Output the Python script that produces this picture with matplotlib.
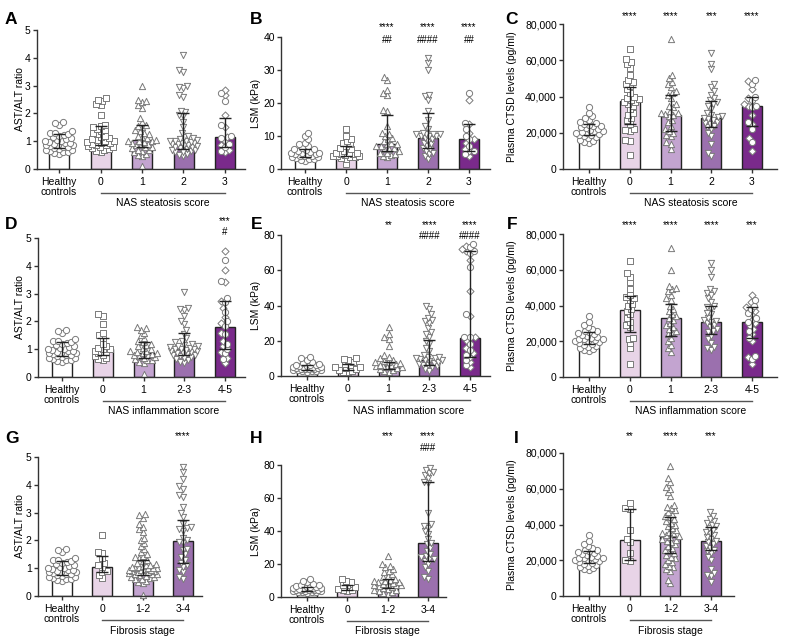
import numpy as np
import matplotlib
matplotlib.use("Agg")
import matplotlib.pyplot as plt
from matplotlib.transforms import blended_transform_factory
from matplotlib.ticker import FuncFormatter

plt.rcParams['font.family'] = ['Liberation Sans', 'DejaVu Sans']

# ---------------- categories ----------------
cat_steatosis = ["Healthy\ncontrols", "0", "1", "2", "3"]
cat_inflam = ["Healthy\ncontrols", "0", "1", "2-3", "4-5"]
cat_fibrosis = ["Healthy\ncontrols", "0", "1-2", "3-4"]

# ---------------- healthy controls (shared) ----------------
healthy_astalt = [0.55, 0.58, 0.6, 0.62, 0.65, 0.68, 0.7, 0.72, 0.75, 0.78, 0.8, 0.82, 0.85, 0.85,
                  0.88, 0.9, 0.92, 0.95, 0.98, 1.0, 1.02, 1.05, 1.08, 1.1, 1.15, 1.2, 1.22, 1.25,
                  1.28, 1.3, 1.35, 1.6, 1.65, 1.7]
healthy_lsm = [2.5, 2.8, 3, 3, 3.2, 3.5, 3.5, 3.8, 4, 4, 4.2, 4.5, 4.5, 4.8, 5, 5, 5.2, 5.5, 5.8,
               6, 6, 6.5, 7, 7.5, 8, 9, 10, 11]
healthy_ctsd = [14500, 15000, 15500, 16000, 17000, 17500, 18000, 18500, 19000, 19500, 20000, 20000,
                20500, 21000, 21000, 21500, 22000, 22500, 23000, 23500, 24000, 24500, 25000, 25500,
                26000, 27000, 28000, 29000, 31000, 34000]

# ---------------- A: AST/ALT by steatosis ----------------
A0 = [0.6, 0.65, 0.7, 0.72, 0.75, 0.78, 0.8, 0.82, 0.85, 0.88, 0.9, 0.92, 0.95, 0.98, 1.0, 1.02,
      1.05, 1.08, 1.1, 1.15, 1.2, 1.25, 1.3, 1.35, 1.4, 1.45, 1.5, 1.55, 1.6, 1.95, 2.3, 2.35,
      2.45, 2.5, 2.55]
A1 = [0.1, 0.45, 0.5, 0.55, 0.6, 0.65, 0.68, 0.7, 0.75, 0.78, 0.8, 0.85, 0.88, 0.9, 0.95, 0.98,
      1.0, 1.0, 1.02, 1.05, 1.1, 1.15, 1.2, 1.25, 1.3, 1.35, 1.4, 1.5, 1.55, 1.6, 1.7, 1.85, 2.2,
      2.3, 2.4, 2.45, 2.5, 3.0]
A2 = [0.45, 0.5, 0.55, 0.6, 0.62, 0.65, 0.68, 0.7, 0.72, 0.75, 0.78, 0.8, 0.82, 0.85, 0.88, 0.9,
      0.9, 0.92, 0.95, 0.98, 1.0, 1.0, 1.02, 1.05, 1.08, 1.1, 1.15, 1.2, 1.3, 1.5, 1.7, 1.9, 1.95,
      2.05, 2.1, 2.6, 2.65, 2.9, 2.95, 3.0, 3.5, 3.55, 4.1]
A3 = [0.6, 0.65, 0.7, 0.8, 0.85, 0.9, 1.0, 1.1, 1.15, 1.2, 1.5, 1.6, 1.95, 2.45, 2.65, 2.75, 2.85]
A_median = [0.9, 1.05, 1.05, 0.95, 1.15]
A_q1 = [0.75, 0.85, 0.8, 0.72, 0.8]
A_q3 = [1.25, 1.55, 1.6, 2.0, 1.85]

# ---------------- B: LSM by steatosis ----------------
B0 = [1.5, 3, 3.2, 3.5, 3.5, 3.8, 4, 4, 4.2, 4.5, 4.5, 4.8, 5, 5, 5.5, 6, 6.5, 7, 7.5, 8, 8.5, 9, 10, 12]
B1 = [3.5, 4, 4.2, 4.5, 5, 5, 5.5, 6, 6.2, 6.5, 7, 7, 7.5, 7.5, 8, 8.5, 9, 9.5, 10, 10.5, 11, 13,
      17.5, 18, 22.5, 23, 24, 27, 28]
B2 = [3, 4, 4.5, 5, 5.5, 6, 6.5, 7, 7.5, 8, 8.5, 9, 9.5, 10, 10, 10, 10.5, 10.5, 10.5, 10.5, 11, 12,
      13, 15, 17.5, 21, 22, 22.5, 30, 32, 33.5]
B3 = [4, 4.5, 5.5, 5.5, 6, 7, 8, 9, 9, 10, 11, 12, 13.5, 14, 21, 23]
B_median = [4.7, 4.5, 7.5, 9.5, 9.0]
B_q1 = [3.5, 3.8, 5.5, 6.5, 5.5]
B_q3 = [6.0, 7.0, 16.5, 17.0, 13.5]
B_stars = ["", "", "****", "****", "****"]
B_hash = ["", "", "##", "####", "##"]

# ---------------- C: CTSD by steatosis ----------------
C0 = [7500, 15500, 16000, 21000, 21500, 22000, 25000, 27000, 28000, 30000, 31000, 33000, 35000,
      36000, 37000, 37000, 38000, 38500, 39000, 40000, 42000, 44000, 46000, 47000, 48000, 49000,
      52000, 56000, 58000, 59000, 60500, 66000]
C1 = [11000, 14000, 15000, 18000, 19000, 20000, 21000, 22000, 24000, 26000, 27000, 29000, 30000,
      30500, 31000, 31000, 32000, 34000, 35000, 36000, 39000, 41000, 42000, 43000, 45000, 47000,
      48000, 50000, 52000, 72000]
C2 = [7000, 9000, 14000, 18000, 20000, 22000, 23000, 24000, 25000, 25500, 26000, 27000, 27500,
      28000, 28500, 29000, 30000, 31000, 33000, 35000, 36000, 37000, 38000, 39000, 41000, 43000,
      45000, 47000, 55000, 58000, 64000]
C3 = [10000, 15000, 17000, 22000, 25000, 26000, 30000, 34000, 35000, 35000, 36000, 38000, 39000,
      40000, 44000, 47000, 48500, 49000]
C_median = [21000, 37500, 30000, 28000, 35000]
C_q1 = [18500, 25000, 21000, 23000, 24000]
C_q3 = [25000, 45500, 41000, 37500, 40000]
C_stars = ["", "****", "****", "***", "****"]

# ---------------- D: AST/ALT by inflammation ----------------
D0 = [0.6, 0.65, 0.7, 0.75, 0.8, 0.85, 0.9, 0.95, 1.0, 1.0, 1.05, 1.1, 1.2, 1.4, 1.5, 1.6, 1.9, 2.2, 2.25]
D1 = [0.1, 0.5, 0.55, 0.6, 0.62, 0.65, 0.7, 0.72, 0.75, 0.78, 0.8, 0.82, 0.85, 0.88, 0.9, 0.92,
      0.95, 1.0, 1.05, 1.1, 1.15, 1.2, 1.25, 1.3, 1.4, 1.5, 1.6, 1.7, 1.75, 1.8]
D2 = [0.5, 0.55, 0.6, 0.65, 0.7, 0.72, 0.75, 0.78, 0.8, 0.82, 0.85, 0.88, 0.9, 0.92, 0.95, 0.98,
      1.0, 1.0, 1.02, 1.05, 1.08, 1.1, 1.12, 1.15, 1.2, 1.25, 1.3, 1.4, 1.55, 1.7, 1.9, 2.0, 2.2,
      2.4, 2.45, 2.5, 3.05]
D3 = [0.5, 0.65, 0.7, 0.85, 0.9, 1.0, 1.1, 1.2, 1.3, 1.55, 1.6, 1.85, 1.95, 2.0, 2.15, 2.35, 2.5,
      2.7, 2.75, 2.85, 3.4, 3.45, 3.85, 4.2, 4.55]
D_median = [0.9, 1.0, 0.85, 1.0, 1.8]
D_q1 = [0.75, 0.78, 0.68, 0.8, 1.0]
D_q3 = [1.25, 1.42, 1.25, 1.6, 2.75]
D_stars = ["", "", "", "", "***"]
D_hash = ["", "", "", "", "#"]

# ---------------- E: LSM by inflammation ----------------
E0 = [2, 2.5, 3, 3.5, 4, 4.5, 5, 5, 6, 7, 8, 9, 9.5, 10]
E1 = [2.5, 3, 3.5, 4, 4.5, 5, 5, 5.5, 5.5, 6, 6.5, 7, 7.5, 8, 8, 8.5, 9, 10, 11, 12, 17, 21, 22, 24, 28]
E2 = [3, 4, 5, 5.5, 6, 6.5, 7, 7.5, 8, 8.5, 9, 9, 9.5, 10, 10, 10.5, 11, 12, 14, 16, 18, 20, 22,
      24, 25, 27, 30, 31, 32, 33, 35, 38, 40]
E3 = [5, 6, 8, 9, 11, 12, 13, 15, 16, 18, 20, 22, 22, 22, 34, 35, 48, 62, 66, 70, 71, 71, 72, 73, 74, 75]
E_median = [4.7, 4.5, 5.5, 9.0, 21.5]
E_q1 = [3.5, 3.5, 4.0, 6.0, 11.0]
E_q3 = [6.0, 7.0, 8.0, 20.5, 71.0]
E_stars = ["", "", "**", "****", "****"]
E_hash = ["", "", "", "####", "####"]

# ---------------- F: CTSD by inflammation ----------------
F0 = [7500, 16000, 19000, 21500, 22000, 28000, 29000, 31000, 33000, 35000, 37000, 38000, 40000,
      41000, 43000, 44000, 44500, 46000, 49000, 53000, 56000, 58000, 65000]
F1 = [14000, 16000, 18000, 20000, 22000, 24000, 25000, 26000, 27000, 28000, 29000, 30000, 32000,
      33000, 34000, 35000, 37000, 38000, 40000, 43000, 44000, 46000, 48000, 49000, 50000, 51000,
      60000, 72000]
F2 = [15000, 16000, 17000, 19000, 21000, 23000, 25000, 26000, 27000, 28000, 29000, 30000, 31000,
      31500, 32000, 33000, 35000, 36000, 38000, 39000, 40000, 42000, 44000, 46000, 47000, 48000,
      49000, 56000, 60000, 64000]
F3 = [7000, 10000, 11000, 12000, 20000, 22000, 24000, 26000, 27000, 29000, 30000, 31000, 32000,
      33000, 35000, 36000, 37000, 38000, 39000, 40000, 42000, 43000, 46000]
F_median = [21000, 37500, 33000, 31000, 31000]
F_q1 = [18500, 25000, 23000, 24000, 22000]
F_q3 = [25000, 45500, 41000, 40000, 39000]
F_stars = ["", "****", "****", "****", "***"]

# ---------------- G: AST/ALT by fibrosis ----------------
G0 = [0.65, 0.75, 0.85, 0.9, 1.05, 1.1, 1.2, 1.35, 1.55, 1.6, 2.2]
G1 = [0.05, 0.45, 0.5, 0.55, 0.6, 0.62, 0.65, 0.68, 0.7, 0.72, 0.75, 0.78, 0.8, 0.8, 0.82, 0.85,
      0.85, 0.88, 0.9, 0.9, 0.92, 0.95, 0.95, 0.98, 1.0, 1.0, 1.0, 1.02, 1.05, 1.05, 1.08, 1.1,
      1.1, 1.15, 1.2, 1.25, 1.3, 1.35, 1.4, 1.45, 1.5, 1.6, 1.7, 1.8, 1.9, 2.0, 2.1, 2.3, 2.4, 2.5,
      2.6, 2.8, 2.9, 2.95]
G2 = [0.6, 0.7, 0.85, 0.95, 1.05, 1.1, 1.2, 1.3, 1.4, 1.5, 1.65, 1.7, 1.9, 1.95, 2.0, 2.1, 2.35,
      2.4, 2.45, 2.5, 2.6, 2.85, 3.0, 3.2, 3.55, 3.65, 3.85, 3.95, 4.2, 4.45, 4.65]
G_median = [0.9, 1.05, 0.95, 1.97]
G_q1 = [0.75, 0.85, 0.75, 1.2]
G_q3 = [1.25, 1.45, 1.3, 2.75]
G_stars = ["", "", "", "****"]

# ---------------- H: LSM by fibrosis ----------------
H0 = [3.5, 4, 4.5, 5, 6, 7, 7.5, 9, 10, 11]
H1 = [2, 2.5, 3, 3.5, 4, 4.5, 5, 5.5, 6, 6.5, 7, 7, 7.5, 8, 8, 8.5, 9, 9, 9.5, 10, 10.5, 11, 12,
      13, 14, 15, 16, 17, 18, 19, 20, 25]
H2 = [11, 12, 16, 18, 20, 22, 23, 23, 24, 25, 26, 28, 30, 32, 33, 35, 38, 40, 42, 43, 44, 51, 69,
      70, 72, 74, 75, 76, 77, 78]
H_median = [4.7, 5.0, 8.0, 32.5]
H_q1 = [3.5, 4.0, 5.5, 22.0]
H_q3 = [6.0, 7.5, 11.0, 70.0]
H_stars = ["", "", "***", "****"]
H_hash = ["", "", "", "###"]

# ---------------- I: CTSD by fibrosis ----------------
I0 = [19500, 20000, 24000, 30000, 32000, 37000, 48500, 49500, 52000]
I1 = [7000, 9000, 14000, 15000, 16000, 17000, 18000, 19000, 20000, 21000, 22000, 23000, 24000,
      25000, 26000, 27000, 28000, 29000, 30000, 31000, 31500, 32000, 33000, 33500, 34000, 35000,
      35500, 36000, 37000, 38000, 39000, 40000, 41000, 42000, 43000, 44000, 45000, 46000, 47000,
      48000, 49000, 50000, 51000, 56000, 58000, 60000, 61000, 64000, 66000, 73000]
I2 = [8000, 11000, 12000, 13000, 15000, 20000, 22000, 24000, 25000, 26000, 27000, 28000, 29000,
      30000, 31000, 32000, 33000, 34000, 35000, 36000, 37000, 38000, 39000, 40000, 41000, 42000,
      43000, 45000, 47000]
I_median = [21000, 31500, 33000, 31000]
I_q1 = [18500, 20000, 24000, 26000]
I_q3 = [25000, 48500, 44000, 38500]
I_stars = ["", "**", "****", "***"]

# ---------------- styling / layout ----------------
W, H = 787, 640
fig = plt.figure(figsize=(W / 100, H / 100), dpi=100)

COL5 = ["#ffffff", "#e8d4e7", "#c3a4d0", "#9b70ae", "#7a2a8b"]
COL4 = ["#ffffff", "#e8d4e7", "#c3a4d0", "#9b70ae"]
MK5 = ["o", "s", "^", "v", "mix"]
MK4 = ["o", "s", "^", "v"]
MSIZE = {"o": 20, "s": 17, "^": 20, "v": 20, "D": 13}

layout = {
    'A': dict(left=37, right=245, top=30, bottom=169, c0=59, sp=41.5, letter=(5, 12), ylab_x=20),
    'B': dict(left=281, right=490, top=37, bottom=169, c0=305, sp=41, letter=(250, 12), ylab_x=256,
              star_y=27, hash_y=40),
    'C': dict(left=563, right=777, top=24, bottom=169, c0=589, sp=40.75, letter=(505, 12), ylab_x=512,
              star_y=16),
    'D': dict(left=38, right=245, top=238, bottom=377, c0=62, sp=40.75, letter=(5, 217), ylab_x=20,
              star_y=221, hash_y=232),
    'E': dict(left=281, right=490, top=235, bottom=376, c0=307, sp=40.75, letter=(251, 217), ylab_x=256,
              star_y=225, hash_y=236),
    'F': dict(left=563, right=777, top=234, bottom=377, c0=589, sp=40.75, letter=(507, 217), ylab_x=512,
              star_y=225),
    'G': dict(left=38, right=202, top=457, bottom=596, c0=62, sp=40.3, letter=(5, 431), ylab_x=20,
              star_y=436),
    'H': dict(left=281, right=446, top=465, bottom=597, c0=307, sp=40.3, letter=(250, 431), ylab_x=256,
              star_y=436, hash_y=448),
    'I': dict(left=563, right=734, top=453, bottom=596, c0=589, sp=40.7, letter=(514, 431), ylab_x=512,
              star_y=436),
}


def swarm(ypx, d, maxw):
    """Deterministic beeswarm layout in pixels, limited to +/- maxw."""
    ypx = np.asarray(ypx, float)
    xs = np.zeros(len(ypx))
    placed = []
    grid = np.arange(-maxw, maxw + 0.01, 0.5)
    for i in np.argsort(ypx, kind="stable"):
        y = ypx[i]
        near = [(xs[j], ypx[j]) for j in placed if abs(ypx[j] - y) < d]
        cands = [0.0]
        for xj, yj in near:
            dx = np.sqrt(d * d - (yj - y) ** 2)
            cands += [xj + dx, xj - dx]
        cands = [c for c in cands if abs(c) <= maxw]
        cands.sort(key=lambda c: (abs(c), c))
        chosen = None
        for c in cands:
            if all((c - xj) ** 2 + (y - yj) ** 2 >= d * d - 1e-6 for xj, yj in near):
                chosen = c
                break
        if chosen is None:
            best, bestd = 0.0, -1
            for g in grid:
                md = min((g - xj) ** 2 + (y - yj) ** 2 for xj, yj in near)
                if md > bestd + 1e-9:
                    best, bestd = g, md
            chosen = best
        xs[i] = chosen
        placed.append(i)
    return xs


def draw_panel(key, values, med, q1, q3, cats, colors, markers, ylabel, ymax, yticks,
               group_label, stars=None, hashes=None, comma=False):
    L = layout[key]
    left, right, top, bottom, c0, sp = L['left'], L['right'], L['top'], L['bottom'], L['c0'], L['sp']
    ax = fig.add_axes([left / W, 1 - bottom / H, (right - left) / W, (bottom - top) / H])
    ax.set_xlim(-(c0 - left) / sp, (right - c0) / sp)
    ax.set_ylim(0, ymax)
    n = len(cats)
    x = np.arange(n)
    ax.bar(x, med, width=20 / sp, color=colors, edgecolor="#222222", linewidth=1.0, zorder=1)
    pxu = (bottom - top) / ymax
    for i, vals in enumerate(values):
        v = np.asarray(vals, float)
        off = swarm(v * pxu, 4.6, 14.0) / sp
        mk = markers[i]
        if mk == "mix":
            groups = [("D", slice(0, None, 2)), ("o", slice(1, None, 2))]
        else:
            groups = [(mk, slice(None))]
        for m, slc in groups:
            ax.scatter(i + off[slc], v[slc], marker=m, s=MSIZE[m], facecolor="white",
                       edgecolor="#7a7a7a", linewidths=0.7, zorder=2, clip_on=False)
    for i in range(n):
        ax.errorbar(i, med[i], yerr=[[med[i] - q1[i]], [q3[i] - med[i]]], fmt="none",
                    ecolor="#222222", elinewidth=1.0, capsize=4.5, capthick=1.0, zorder=3)
    for s in ("top", "right"):
        ax.spines[s].set_visible(False)
    for s in ("left", "bottom"):
        ax.spines[s].set_color("#333333")
        ax.spines[s].set_linewidth(1.0)
    ax.tick_params(axis="both", length=3, width=1, color="#333333", labelcolor="black",
                   labelsize=7.5, pad=1.5)
    ax.tick_params(axis="x", pad=2.5)
    ax.set_xticks(x)
    ax.set_xticklabels(cats, linespacing=1.1)
    ax.set_yticks(yticks)
    if comma:
        ax.yaxis.set_major_formatter(FuncFormatter(lambda v, p: f"{int(v):,}"))
    blend = blended_transform_factory(ax.transData, fig.transFigure)
    yl = 1 - (bottom + 24) / H
    ax.plot([1, n - 1], [yl, yl], transform=blend, color="#555555", lw=1.0, clip_on=False)
    ax.text(n / 2, 1 - (bottom + 34.5) / H, group_label, transform=blend, ha="center",
            va="center", fontsize=7.5)
    if stars:
        for i, s in enumerate(stars):
            if s:
                ax.text(i, 1 - L['star_y'] / H, s, transform=blend, ha="center", va="center",
                        fontsize=7)
    if hashes:
        for i, s in enumerate(hashes):
            if s:
                ax.text(i, 1 - L['hash_y'] / H, s, transform=blend, ha="center", va="center",
                        fontsize=7)
    fig.text(L['ylab_x'] / W, 1 - ((top + bottom) / 2) / H, ylabel, rotation=90, ha="center",
             va="center", fontsize=7.5)
    lx, ly = L['letter']
    fig.text(lx / W, 1 - ly / H, key, fontsize=12.5, fontweight="bold", ha="left", va="top")
    return ax


draw_panel('A', [healthy_astalt, A0, A1, A2, A3], A_median, A_q1, A_q3, cat_steatosis, COL5, MK5,
           "AST/ALT ratio", 5, [0, 1, 2, 3, 4, 5], "NAS steatosis score")
draw_panel('B', [healthy_lsm, B0, B1, B2, B3], B_median, B_q1, B_q3, cat_steatosis, COL5, MK5,
           "LSM (kPa)", 40, [0, 10, 20, 30, 40], "NAS steatosis score", B_stars, B_hash)
draw_panel('C', [healthy_ctsd, C0, C1, C2, C3], C_median, C_q1, C_q3, cat_steatosis, COL5, MK5,
           "Plasma CTSD levels (pg/ml)", 80000, [0, 20000, 40000, 60000, 80000],
           "NAS steatosis score", C_stars, comma=True)
draw_panel('D', [healthy_astalt, D0, D1, D2, D3], D_median, D_q1, D_q3, cat_inflam, COL5, MK5,
           "AST/ALT ratio", 5, [0, 1, 2, 3, 4, 5], "NAS inflammation score", D_stars, D_hash)
draw_panel('E', [healthy_lsm, E0, E1, E2, E3], E_median, E_q1, E_q3, cat_inflam, COL5, MK5,
           "LSM (kPa)", 80, [0, 20, 40, 60, 80], "NAS inflammation score", E_stars, E_hash)
draw_panel('F', [healthy_ctsd, F0, F1, F2, F3], F_median, F_q1, F_q3, cat_inflam, COL5, MK5,
           "Plasma CTSD levels (pg/ml)", 80000, [0, 20000, 40000, 60000, 80000],
           "NAS inflammation score", F_stars, comma=True)
draw_panel('G', [healthy_astalt, G0, G1, G2], G_median, G_q1, G_q3, cat_fibrosis, COL4, MK4,
           "AST/ALT ratio", 5, [0, 1, 2, 3, 4, 5], "Fibrosis stage", G_stars)
draw_panel('H', [healthy_lsm, H0, H1, H2], H_median, H_q1, H_q3, cat_fibrosis, COL4, MK4,
           "LSM (kPa)", 80, [0, 20, 40, 60, 80], "Fibrosis stage", H_stars, H_hash)
draw_panel('I', [healthy_ctsd, I0, I1, I2], I_median, I_q1, I_q3, cat_fibrosis, COL4, MK4,
           "Plasma CTSD levels (pg/ml)", 80000, [0, 20000, 40000, 60000, 80000],
           "Fibrosis stage", I_stars, comma=True)

fig.savefig("out.png", dpi=100)
